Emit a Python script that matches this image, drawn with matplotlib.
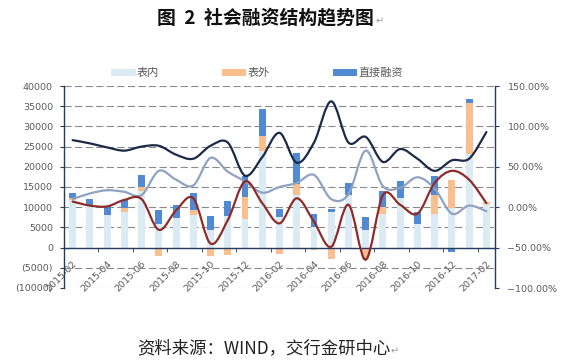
import numpy as np
import matplotlib
matplotlib.use('Agg')
import matplotlib.pyplot as plt
from matplotlib.path import Path
from matplotlib.patches import PathPatch, Rectangle
from matplotlib.ticker import FuncFormatter, FixedLocator

plt.rcParams['font.family'] = ['DejaVu Sans']
CJK = ['Noto Sans CJK SC', 'DejaVu Sans']

months = ['2015-02', '2015-03', '2015-04', '2015-05', '2015-06', '2015-07',
          '2015-08', '2015-09', '2015-10', '2015-11', '2015-12', '2016-01',
          '2016-02', '2016-03', '2016-04', '2016-05', '2016-06', '2016-07',
          '2016-08', '2016-09', '2016-10', '2016-11', '2016-12', '2017-01',
          '2017-02']

# bars (亿元)
biaonei = [11700, 10400, 8000, 8700, 13900, 5900, 7300, 8100, 4300, 7700, 7000, 23800,
           7500, 13100, 5100, 8900, 12900, 4300, 8200, 12400, 5800, 8200, 9800, 23200, 10900]
biaowai = [600, 0, 0, 1000, 1000, -2000, 0, 1100, -2200, -1800, 5500, 3900,
           -1600, 2700, -600, -2900, 0, -2800, 1800, 0, -300, 4800, 7000, 12500, 300]
zhijie = [1100, 1700, 2200, 2000, 3100, 3300, 3300, 4200, 3400, 3900, 5200, 6600,
          2100, 7500, 3100, 700, 3100, 3200, 4100, 4200, 3100, 4800, -1100, 1100, -300]

# lines (%), right axis
line_navy = [83, 79, 74, 70, 75, 76, 65, 60, 76, 80, 39, 62, 92, 55, 80, 131,
             80, 87, 56, 72, 60, 45, 58, 60, 93]
line_gray = [10, 17, 21, 19, 15, 45, 34, 27, 61, 44, 32, 18, 25, 30, 40, 10,
             16, 70, 26, 24, 37, 23, -8, 2, -5]
line_red = [7, 2, 1, 9, 10, -28, -4, 11, -45, -16, 32, 5, -20, 11, -18, -49,
            3, -65, 15, 3, -8, 30, 45, 34, 5]

series_names = ['表内', '表外', '直接融资']
bar_colors = ['#DAEBF3', '#F9BF8E', '#5189D3']
line_colors = ['#1B2A47', '#8FA2C1', '#8E2B2B']

W, H = 567, 361
fig = plt.figure(figsize=(W / 100, H / 100), dpi=100)
ax = fig.add_axes([64 / W, 1 - 288 / H, (495 - 64) / W, (288 - 86) / H])

n = len(months)
x = np.arange(n)
pos_base = np.zeros(n)
neg_base = np.zeros(n)
for vals, col in zip([biaonei, biaowai, zhijie], bar_colors):
    v = np.array(vals, dtype=float)
    bottoms = np.where(v >= 0, pos_base, neg_base)
    ax.bar(x, v, 0.4, bottom=bottoms, color=col, zorder=2, linewidth=0)
    pos_base += np.where(v > 0, v, 0)
    neg_base += np.where(v < 0, v, 0)

ax.set_xlim(-0.5, n - 0.5)
ax.set_ylim(-10000, 40000)
ax.yaxis.set_major_locator(FixedLocator(np.arange(-10000, 40001, 5000)))
ax.yaxis.set_major_formatter(FuncFormatter(
    lambda v, p: f"({int(-v)})" if v < 0 else f"{int(v)}"))
ax.yaxis.grid(True, linestyle=(0, (6.5, 3)), color='#8a8a8a', lw=0.8)
ax.set_axisbelow(True)

spine_col = '#243A5E'
for s in ['top', 'right']:
    ax.spines[s].set_visible(False)
ax.spines['bottom'].set_position(('data', 0))
ax.spines['bottom'].set_color(spine_col)
ax.spines['left'].set_color(spine_col)
ax.spines['bottom'].set_linewidth(1.0)
ax.spines['left'].set_linewidth(1.0)

ax.set_xticks(x[::2])
ax.set_xticklabels(months[::2], rotation=45, ha='right', va='top',
                   rotation_mode='anchor')
ax.set_xticks(np.arange(1.5, n - 1, 2), minor=True)
ax.tick_params(axis='x', which='major', length=0, pad=8, labelsize=6.8,
               labelcolor='#595959')
ax.tick_params(axis='x', which='minor', length=3, direction='out', color=spine_col)
ax.tick_params(axis='y', length=3, direction='out', color=spine_col, pad=5,
               labelsize=6.8, labelcolor='#595959')

ax2 = ax.twinx()
ax2.set_ylim(-100, 150)
ax2.yaxis.set_major_locator(FixedLocator(np.arange(-100, 151, 50)))
ax2.yaxis.set_major_formatter(FuncFormatter(
    lambda v, p: ("\u2212" if v < 0 else "") + f"{abs(v):.2f}%"))
for s in ['top', 'bottom', 'left']:
    ax2.spines[s].set_visible(False)
ax2.spines['right'].set_color(spine_col)
ax2.spines['right'].set_linewidth(1.0)
ax2.tick_params(axis='y', length=3, direction='out', color=spine_col, pad=6,
                labelsize=6.8, labelcolor='#595959')


def smooth_path(xs, ys):
    pts = np.column_stack([xs, ys]).astype(float)
    m = len(pts)
    verts = [pts[0]]
    codes = [Path.MOVETO]
    for i in range(m - 1):
        p0 = pts[max(i - 1, 0)]
        p1 = pts[i]
        p2 = pts[i + 1]
        p3 = pts[min(i + 2, m - 1)]
        c1 = p1 + (p2 - p0) / 6.0
        c2 = p2 - (p3 - p1) / 6.0
        verts += [c1, c2, p2]
        codes += [Path.CURVE4] * 3
    return Path(verts, codes)


for vals, col in zip([line_gray, line_red, line_navy], [line_colors[1], line_colors[2], line_colors[0]]):
    patch = PathPatch(smooth_path(x, vals), fill=False, edgecolor=col, lw=1.6,
                      capstyle='round', joinstyle='round', zorder=3)
    ax2.add_patch(patch)

ax.set_xlim(-0.5, n - 0.5)
ax2.set_ylim(-100, 150)

# legend (manual, top)
leg = [(111, 136, 137), (222, 246, 248), (333, 357, 358)]
for (x0, x1, tx), name, col in zip(leg, series_names, bar_colors):
    fig.patches.append(Rectangle((x0 / W, 1 - 76 / H), (x1 - x0) / W, 6.5 / H,
                                 transform=fig.transFigure, facecolor=col,
                                 edgecolor='none'))
    fig.text(tx / W, 1 - 73 / H, name, ha='left', va='center', fontsize=8,
             color='#595959', family=CJK)

# title
fig.text(157 / W, 1 - 18 / H, "图  2  社会融资结构趋势图", ha='left', va='center',
         fontsize=13.6, fontweight='bold', family=CJK, color='#111111')
fig.text(376 / W, 1 - 21 / H, "\u21b5", ha='left', va='center', fontsize=7,
         color='#9a9a9a', family=['DejaVu Sans'])

# source
fig.text(137 / W, 1 - 348 / H, "资料来源：WIND，交行金研中心", ha='left', va='center',
         fontsize=12.5, family=CJK, color='#222222', fontweight='light')
fig.text(391 / W, 1 - 351 / H, "\u21b5", ha='left', va='center', fontsize=7,
         color='#9a9a9a', family=['DejaVu Sans'])

fig.savefig('out.png', dpi=100)
